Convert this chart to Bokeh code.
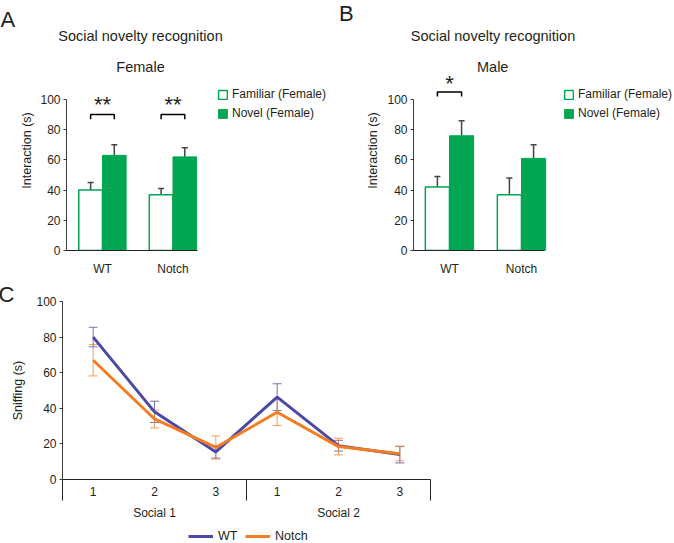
from bokeh.plotting import figure
from bokeh.layouts import column, row
from bokeh.models import (FixedTicker, Legend, LegendItem, Whisker, TeeHead, Title,
                          ColumnDataSource, LinearAxis, Range1d)
from bokeh.core.properties import value
from bokeh.embed import file_html
from bokeh.resources import INLINE

FONT = "Liberation Sans"
GREEN = "#00a651"
BLUE = "#4b48a6"
ORANGE = "#f47d22"
TXT = "#231f20"
AX = "#3a3a3a"

# ---------------- data ----------------
genotypes = ["WT", "Notch"]

female_familiar = [40, 37]
female_familiar_err = [5, 4]
female_novel = [63, 62]
female_novel_err = [7, 6]
female_sig = ["**", "**"]

male_familiar = [42, 37]
male_familiar_err = [7, 11]
male_novel = [76, 61]
male_novel_err = [10, 9]
male_sig = ["*", ""]

trial_labels = ["1", "2", "3", "1", "2", "3"]
session_labels = ["Social 1", "Social 2"]
wt_mean = [80, 38, 15.5, 46.3, 19, 14]
wt_err = [5.5, 6, 3.5, 7.5, 3, 4.7]
notch_mean = [67, 34, 18, 37.8, 18.5, 14.5]
notch_err = [8.8, 5, 6.5, 7.5, 4.7, 4]

y_ticks = [0, 20, 40, 60, 80, 100]

panel_title = "Social novelty recognition"
panel_sub = ["Female", "Male"]
panel_letters = ["A", "B", "C"]
legend_labels = ["Familiar (Female)", "Novel (Female)"]
line_labels = ["WT", "Notch"]

TOP = 50  # frame top of panels A/B (px)


def style_y(p, label, standoff):
    ax = p.yaxis[0]
    ax.ticker = FixedTicker(ticks=y_ticks)
    ax.bounds = (0, 100)
    ax.axis_label = label
    ax.axis_label_text_font = FONT
    ax.axis_label_text_font_size = "12.5px"
    ax.axis_label_text_font_style = "normal"
    ax.axis_label_text_color = TXT
    ax.axis_label_standoff = standoff
    ax.major_label_text_font = FONT
    ax.major_label_text_font_size = "12px"
    ax.major_label_text_color = TXT
    ax.major_label_standoff = 3
    ax.major_tick_out = 3
    ax.major_tick_in = 0
    ax.minor_tick_line_color = None
    ax.minor_tick_out = 0
    ax.axis_line_color = AX
    ax.major_tick_line_color = AX


# ---------------- header: panel letters A/B and titles ----------------
head = figure(width=674, height=TOP, x_range=Range1d(0, 674), y_range=Range1d(TOP, 0),
              min_border_left=0, min_border_right=0, min_border_top=0, min_border_bottom=0,
              output_backend="svg", toolbar_location=None, outline_line_color=None)
head.axis.visible = False
head.grid.visible = False
head.text(x=[0, 338.5], y=[19, 12.5], text=panel_letters[:2], text_align="left",
          text_baseline="middle", text_font=value(FONT), text_font_size="22px",
          text_color=TXT)
head.text(x=[140, 492.5], y=[35, 35], text=[panel_title, panel_title], text_align="center",
          text_baseline="middle", text_font=value(FONT), text_font_size="14.5px",
          text_color=TXT)


def bar_panel(border_left, x_start, x_end, axis_end, fam, fam_err, nov, nov_err,
              sig, bracket_y, star_y, legend_x, label_standoff, sub, sub_x):
    p = figure(width=337, height=278 - TOP, x_range=Range1d(x_start, x_end),
               y_range=Range1d(0, (250 - TOP) / 1.51), min_border_left=border_left,
               min_border_right=0, min_border_top=0, min_border_bottom=28,
               output_backend="svg", toolbar_location=None, outline_line_color=None)
    p.grid.visible = False
    xs = list(range(len(genotypes)))
    fam_x = [x - 0.168 for x in xs]
    nov_x = [x + 0.168 for x in xs]
    r_fam = p.vbar(x=fam_x, top=fam, width=0.335, fill_color="white",
                   line_color=GREEN, line_width=1.5)
    r_nov = p.vbar(x=nov_x, top=nov, width=0.335, fill_color=GREEN,
                   line_color=GREEN, line_width=1)
    for bx, top, err in ((fam_x, fam, fam_err), (nov_x, nov, nov_err)):
        src = ColumnDataSource(dict(x=bx, lo=top, hi=[t + e for t, e in zip(top, err)]))
        p.add_layout(Whisker(base="x", lower="lo", upper="hi", source=src,
                             line_color="#444444", line_width=1.5,
                             upper_head=TeeHead(size=6, line_color="#444444", line_width=1.5),
                             lower_head=None))
    bxs, bys, sx, st = [], [], [], []
    for i, s in enumerate(sig):
        if s:
            bxs.append([fam_x[i], fam_x[i], nov_x[i], nov_x[i]])
            bys.append([bracket_y - 3, bracket_y, bracket_y, bracket_y - 3])
            sx.append(xs[i])
            st.append(s)
    p.multi_line(xs=bxs, ys=bys, line_color="black", line_width=1.5)
    p.text(x=sx, y=[star_y] * len(sx), text=st, text_align="center", text_baseline="middle",
           text_font=value(FONT), text_font_size="22px", text_color=TXT)
    p.text(x=[sub_x], y=[121.2], text=[sub], text_align="center", text_baseline="middle",
           text_font=value(FONT), text_font_size="14.5px", text_color=TXT)

    style_y(p, "Interaction (s)", label_standoff)
    ax = p.xaxis[0]
    ax.ticker = FixedTicker(ticks=xs)
    ax.major_label_overrides = {i: g for i, g in enumerate(genotypes)}
    ax.bounds = (x_start, axis_end)
    ax.major_tick_line_color = None
    ax.minor_tick_line_color = None
    ax.major_tick_out = 0
    ax.minor_tick_out = 0
    ax.major_label_standoff = 11
    ax.major_label_text_font = FONT
    ax.major_label_text_font_size = "12px"
    ax.major_label_text_color = TXT
    ax.axis_line_color = "#222222"

    leg = Legend(items=[LegendItem(label=legend_labels[0], renderers=[r_fam]),
                        LegendItem(label=legend_labels[1], renderers=[r_nov])],
                 location=(legend_x, 130), padding=0, margin=0, spacing=5,
                 glyph_height=11, glyph_width=11, label_height=12, label_standoff=4,
                 border_line_color=None, background_fill_alpha=0,
                 label_text_font=FONT, label_text_font_size="12px", label_text_color=TXT)
    p.add_layout(leg)
    return p


pA = bar_panel(66, -0.51, -0.51 + 271 / 70.5, 1.35, female_familiar, female_familiar_err,
               female_novel, female_novel_err, female_sig, 90, 97, 151, 3,
               panel_sub[0], 0.54)
pB = bar_panel(76, -0.5, -0.5 + 261 / 72, 1.32, male_familiar, male_familiar_err,
               male_novel, male_novel_err, male_sig, 105, 110.3, 150, 4,
               panel_sub[1], 0.6)

# ---------------- panel C ----------------
pC = figure(width=674, height=245, x_range=Range1d(-0.5, 5.5), y_range=Range1d(0, 100),
            min_border_left=62, min_border_right=244, min_border_top=23,
            min_border_bottom=44, output_backend="svg", toolbar_location=None,
            outline_line_color=None)
pC.grid.visible = False
xc = list(range(len(trial_labels)))
for mean, err, col in ((wt_mean, wt_err, BLUE), (notch_mean, notch_err, ORANGE)):
    src = ColumnDataSource(dict(x=xc, lo=[m - e for m, e in zip(mean, err)],
                                hi=[m + e for m, e in zip(mean, err)]))
    pC.add_layout(Whisker(base="x", lower="lo", upper="hi", source=src,
                          line_color=col, line_alpha=0.75, line_width=1,
                          upper_head=TeeHead(size=9, line_color=col, line_alpha=0.75, line_width=1),
                          lower_head=TeeHead(size=9, line_color=col, line_alpha=0.75, line_width=1)))
pC.line(x=xc, y=wt_mean, line_color=BLUE, line_width=3)
pC.line(x=xc, y=notch_mean, line_color=ORANGE, line_width=3)

style_y(pC, "Sniffing (s)", 8)
axc = pC.xaxis[0]
axc.ticker = FixedTicker(ticks=xc, minor_ticks=[-0.5, 2.5, 5.5])
axc.major_label_overrides = {i: t for i, t in enumerate(trial_labels)}
axc.bounds = (-0.5, 5.5)
axc.major_tick_line_color = None
axc.major_tick_out = 0
axc.minor_tick_out = 21
axc.minor_tick_in = 0
axc.minor_tick_line_color = "#222222"
axc.major_label_standoff = -14
axc.major_label_text_font = FONT
axc.major_label_text_font_size = "12px"
axc.major_label_text_color = TXT
axc.axis_line_color = "#222222"

ax2 = LinearAxis(ticker=FixedTicker(ticks=[1, 4]),
                 major_label_overrides={1: session_labels[0], 4: session_labels[1]},
                 axis_line_color=None, major_tick_line_color=None, minor_tick_line_color=None,
                 major_tick_out=0, minor_tick_out=0,
                 major_label_standoff=7, major_label_text_font=FONT,
                 major_label_text_font_size="12px", major_label_text_color=TXT)
pC.add_layout(ax2, "below")

pC.add_layout(Title(text=panel_letters[2], align="left", offset=-64, standoff=-11,
                    text_font=FONT, text_font_size="22px", text_font_style="normal",
                    text_color=TXT, vertical_align="bottom"), "above")

# ---------------- legend strip for panel C ----------------
legfig = figure(width=674, height=20, x_range=Range1d(0, 1), y_range=Range1d(0, 1),
                min_border_left=62, min_border_right=244, min_border_top=0,
                min_border_bottom=0, output_backend="svg", toolbar_location=None,
                outline_line_color=None)
legfig.axis.visible = False
legfig.grid.visible = False
r_wt = legfig.line(x=[0], y=[0], line_color=BLUE, line_width=3)
r_no = legfig.line(x=[0], y=[0], line_color=ORANGE, line_width=3)
legC = Legend(items=[LegendItem(label=line_labels[0], renderers=[r_wt]),
                     LegendItem(label=line_labels[1], renderers=[r_no])],
              orientation="horizontal", location=(188 - 62, 0), padding=0, margin=0,
              spacing=7, glyph_width=25, glyph_height=12, label_height=12,
              label_standoff=5, border_line_color=None, background_fill_alpha=0,
              label_text_font=FONT, label_text_font_size="12.5px", label_text_color=TXT)
legfig.add_layout(legC)

top = column(head, row(pA, pB))
layout = column(top, pC, legfig)
open("out.html", "w").write(file_html(layout, INLINE))
